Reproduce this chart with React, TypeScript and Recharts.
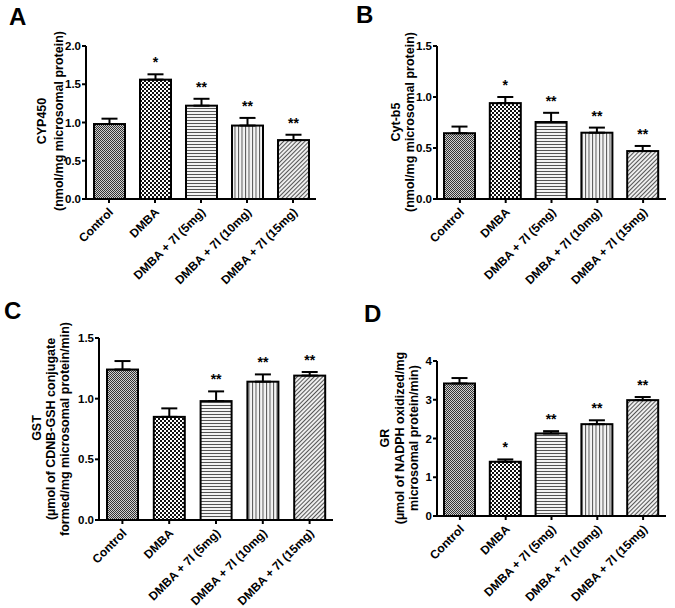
import React from 'react';
import { BarChart, Bar, XAxis, YAxis, ErrorBar } from 'recharts';

const groups = ['Control', 'DMBA', 'DMBA + 7l (5mg)', 'DMBA + 7l (10mg)', 'DMBA + 7l (15mg)'];

// A - CYP450
const cypMean = [0.98, 1.56, 1.22, 0.96, 0.77];
const cypSem = [0.07, 0.07, 0.09, 0.1, 0.07];
const cypSig = ['', '*', '**', '**', '**'];
const cypTicks = [0, 0.5, 1, 1.5, 2];

// B - Cyt-b5
const cytMean = [0.645, 0.94, 0.755, 0.65, 0.47];
const cytSem = [0.065, 0.06, 0.09, 0.05, 0.05];
const cytSig = ['', '*', '**', '**', '**'];
const cytTicks = [0, 0.5, 1, 1.5];

// C - GST
const gstMean = [1.24, 0.85, 0.98, 1.14, 1.19];
const gstSem = [0.07, 0.07, 0.08, 0.06, 0.03];
const gstSig = ['', '', '**', '**', '**'];
const gstTicks = [0, 0.5, 1, 1.5];

// D - GR
const grMean = [3.42, 1.4, 2.13, 2.37, 2.99];
const grSem = [0.14, 0.06, 0.06, 0.1, 0.08];
const grSig = ['', '*', '**', '**', '**'];
const grTicks = [0, 1, 2, 3, 4];

const fills = ['pat-ctl', 'pat-chk', 'pat-hor', 'pat-ver', 'pat-dia'];
const FONT = 'Arial, "Liberation Sans", Helvetica, sans-serif';

const Patterns = () => (
  <svg width={0} height={0} style={{ position: 'absolute' }}>
    <defs>
      <pattern id="pat-ctl" width="2" height="2" patternUnits="userSpaceOnUse">
        <rect width="2" height="2" fill="#d0d0d0" />
        <rect width="1" height="1" fill="#333" />
        <rect x="1" y="1" width="1" height="1" fill="#333" />
      </pattern>
      <pattern id="pat-chk" width="4" height="4" patternUnits="userSpaceOnUse">
        <rect width="4" height="4" fill="#fff" />
        <rect width="2" height="2" fill="#111" />
        <rect x="2" y="2" width="2" height="2" fill="#111" />
      </pattern>
      <pattern id="pat-hor" width="3" height="3" patternUnits="userSpaceOnUse">
        <rect width="3" height="3" fill="#f4f4f4" />
        <rect width="3" height="1" fill="#555" />
      </pattern>
      <pattern id="pat-ver" width="3.5" height="3" patternUnits="userSpaceOnUse">
        <rect width="3.5" height="3" fill="#f4f4f4" />
        <rect width="1" height="3" fill="#555" />
      </pattern>
      <pattern id="pat-dia" width="3" height="3" patternUnits="userSpaceOnUse" patternTransform="rotate(45)">
        <rect width="3" height="3" fill="#eee" />
        <rect width="1" height="3" fill="#555" />
      </pattern>
    </defs>
  </svg>
);

const XTick = (p: any) => {
  const { x, y, payload } = p;
  const ax = x + 2;
  const ay = y + 5;
  return (
    <text
      x={ax}
      y={ay}
      dy="0.35em"
      transform={`rotate(-45 ${ax} ${ay})`}
      textAnchor="end"
      fontFamily={FONT}
      fontWeight="bold"
      fontSize={12}
      fill="#000"
    >
      {payload.value}
    </text>
  );
};

type PanelProps = {
  box: number[];
  margin: { top: number; right: number; bottom: number; left: number };
  mean: number[];
  sem: number[];
  sig: string[];
  ticks: number[];
  digits: number;
};

function Panel({ box, margin, mean, sem, sig, ticks, digits }: PanelProps) {
  const rows = groups.map((g, i) => ({ name: g, value: mean[i], err: [0, sem[i]], sig: sig[i] }));

  const shape = (p: any) => {
    const { x, y, width, height, payload } = p;
    const i = groups.indexOf(payload.name);
    const errTop = y - (payload.err[1] * height) / payload.value;
    return (
      <g>
        <rect x={x} y={y} width={width} height={height} fill={`url(#${fills[i]})`} stroke="#000" strokeWidth={2} />
        {payload.sig ? (
          <text
            x={x + width / 2}
            y={errTop - 7}
            textAnchor="middle"
            fontFamily={FONT}
            fontWeight="bold"
            fontSize={14}
            fill="#000"
          >
            {payload.sig}
          </text>
        ) : null}
      </g>
    );
  };

  return (
    <div style={{ position: 'absolute', left: box[0], top: box[1] }}>
      <BarChart width={box[2]} height={box[3]} data={rows} margin={margin} barSize={31}>
        <XAxis
          dataKey="name"
          height={80}
          interval={0}
          tick={<XTick />}
          tickSize={4}
          tickLine={{ stroke: '#000', strokeWidth: 2 }}
          axisLine={{ stroke: '#000', strokeWidth: 2 }}
        />
        <YAxis
          width={40}
          type="number"
          domain={[ticks[0], ticks[ticks.length - 1]]}
          ticks={ticks}
          interval={0}
          allowDataOverflow
          tickFormatter={(v: number) => v.toFixed(digits)}
          tickSize={4}
          tickMargin={1}
          tick={{ fill: '#000', fontFamily: FONT, fontWeight: 'bold', fontSize: 11.5 }}
          tickLine={{ stroke: '#000', strokeWidth: 2 }}
          axisLine={{ stroke: '#000', strokeWidth: 2 }}
        />
        <Bar dataKey="value" shape={shape} isAnimationActive={false}>
          <ErrorBar dataKey="err" direction="y" width={8} strokeWidth={2} stroke="#000" />
        </Bar>
      </BarChart>
    </div>
  );
}

const VLabel = ({ x, y, text }: { x: number; y: number; text: string }) => (
  <text
    x={x}
    y={y}
    transform={`rotate(-90 ${x} ${y})`}
    textAnchor="middle"
    fontFamily={FONT}
    fontWeight="bold"
    fontSize={12.5}
    fill="#000"
  >
    {text}
  </text>
);

const Letter = ({ x, y, text }: { x: number; y: number; text: string }) => (
  <text x={x} y={y} fontFamily={FONT} fontWeight="bold" fontSize={24} fill="#000">
    {text}
  </text>
);

export default function App() {
  return (
    <div style={{ position: 'absolute', left: 0, top: 0, width: 675, height: 608, background: '#fff' }}>
      <Patterns />
      <Panel box={[0, 0, 340, 300]} margin={{ top: 46, right: 24, bottom: 21, left: 46 }}
        mean={cypMean} sem={cypSem} sig={cypSig} ticks={cypTicks} digits={1} />
      <Panel box={[340, 0, 335, 300]} margin={{ top: 46, right: 9, bottom: 21, left: 57 }}
        mean={cytMean} sem={cytSem} sig={cytSig} ticks={cytTicks} digits={1} />
      <Panel box={[0, 300, 340, 308]} margin={{ top: 38, right: 7, bottom: 8, left: 59 }}
        mean={gstMean} sem={gstSem} sig={gstSig} ticks={gstTicks} digits={1} />
      <Panel box={[340, 300, 335, 308]} margin={{ top: 61, right: 9, bottom: 12, left: 57 }}
        mean={grMean} sem={grSem} sig={grSig} ticks={grTicks} digits={0} />
      <svg width={675} height={608} style={{ position: 'absolute', left: 0, top: 0, pointerEvents: 'none' }}>
        <Letter x={9} y={25} text="A" />
        <Letter x={356} y={23} text="B" />
        <Letter x={4} y={319} text="C" />
        <Letter x={364} y={322} text="D" />

        <VLabel x={46} y={121} text="CYP450" />
        <VLabel x={63} y={121} text="(nmol/mg microsomal protein)" />

        <VLabel x={400} y={122} text="Cyt-b5" />
        <VLabel x={414} y={122} text="(nmol/mg microsomal protein)" />

        <VLabel x={41} y={428} text="GST" />
        <VLabel x={55} y={429} text="(µmol of CDNB-GSH conjugate" />
        <VLabel x={69} y={429} text="formed/mg microsomal protein/min)" />

        <VLabel x={389} y={438} text="GR" />
        <VLabel x={404} y={438} text="(µmol of NADPH oxidized/mg" />
        <VLabel x={418} y={438} text="microsomal protein/min)" />
      </svg>
    </div>
  );
}
